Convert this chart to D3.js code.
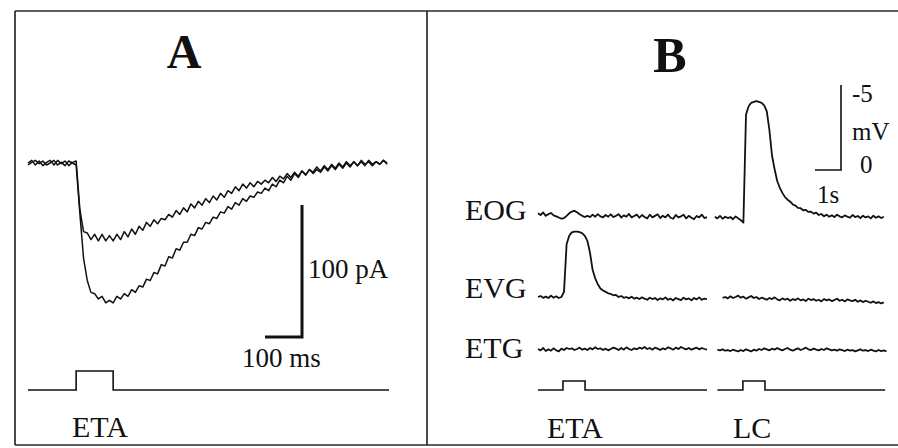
<!DOCTYPE html>
<html>
<head>
<meta charset="utf-8">
<script src="https://cdn.jsdelivr.net/npm/d3@7"></script>
<style>
  body { margin: 0; background: #fff; }
  svg text { font-family: "Liberation Serif", "Times New Roman", serif; fill: #111; }
</style>
</head>
<body>
<svg id="fig" width="898" height="448"></svg>
<script>
// ---- Panel A: whole-cell currents (pA), one sample every 10 ms ----
const dtA = 10;
const currentSmall = [
  0, 2, -1.5, 1.5, -2, 0.5, 2, -1.5, 2, -0.5, 1.5, -2, 0.5, 1.5,
  -35, -52, -53, -58, -54, -59, -54, -59, -55, -59, -54, -58, -52, -56, -50, -54,
  -48, -51, -45, -48, -43, -46, -42, -43, -39, -41, -36, -39, -34, -37, -31, -34,
  -29, -32, -27, -30, -25, -28, -23, -26, -21, -23, -18, -21, -16, -19, -15, -18,
  -14, -16, -13, -15, -11, -14, -10, -12, -8, -11, -7, -10, -6, -9, -5, -8,
  -5, -7, -3, -6, -2, -5, -1, -4, 0, -3, 1, -2, 1, -2, 2, -1, 1, -1, 2, 0
];
const currentLarge = [
  -1.5, 0.5, 2, -0.5, 1.5, -1.5, 0, 2, -1.5, 0.5, -2, 1.5, 0, -1.5,
  -38, -72, -89, -98, -99, -103, -101, -106, -104, -106, -101, -103, -99, -101, -96, -98,
  -93, -94, -88, -89, -83, -84, -77, -78, -71, -72, -65, -66, -60, -60, -54, -55,
  -49, -50, -45, -46, -41, -42, -37, -38, -33, -35, -30, -32, -27, -29, -25, -26,
  -22, -23, -19, -21, -16, -18, -13, -15, -10, -13, -8, -11, -6, -9, -5, -7,
  -3, -6, -2, -5, -1, -4, 0, -3, 1, -2, 1, -2, 2, -1, 1, -2, 1, -1, 2, -1
];
// ETA stimulus: [start, on, off, end] in ms
const stimA = [0, 130, 230, 975];
const scaleBarA = { pA: 100, ms: 100 };

// ---- Panel B: field potentials (mV), one sample every 0.1 s ----
const dtB = 0.1;
const channels = ["EOG", "EVG", "ETG"];
const eogSweep1 = [
  -0.1, 0, -0.15, 0.05, -0.05, -0.12, 0.02, 0.08, 0.15, 0.22,
  0.18, 0.05, -0.1, -0.2, -0.24, -0.16, -0.05, 0.05, 0.12, 0.05,
  0.12, -0.02, 0.1, -0.05, 0.08, 0.14, 0, 0.1, -0.04, 0.12,
  0.05, -0.05, 0.15, 0.02, 0.1, -0.06, 0.14, 0.06, -0.02, 0.16,
  0, 0.12, 0.2, -0.02, 0.14, 0.05, -0.04, 0.18, 0.04, 0.14,
  -0.02, 0.16, 0.22, 0, 0.14, 0.08, -0.02, 0.2, 0.05, 0.16,
  0.24, 0.06, 0.14, -0.02, 0.18, 0.12
];
const eogSweep2 = [
  0.1, 0.2, 0.05, 0.22, 0.1, 0.18, 0.12, 0.25, 0.08, 0.2,
  0.3, 0.45, -5.9, -6.4, -6.6, -6.65, -6.7, -6.65, -6.6, -6.45,
  -6.1, -5.0, -3.5, -2.7, -2.0, -1.6, -1.3, -1.05, -0.9, -0.78,
  -0.62, -0.55, -0.42, -0.4, -0.28, -0.3, -0.18, -0.2, -0.08, -0.14,
  0, -0.06, 0.08, -0.02, 0.1, 0.02, 0.12, -0.02, 0.08, 0.14,
  0.02, 0.1, 0.16, 0, 0.12, 0.06, 0.18, 0.04, 0.14, 0.08,
  0.2, 0.04, 0.16, 0.08, 0.18, 0.1
];
const evgSweep1 = [
  0, -0.06, 0.05, -0.02, 0.06, -0.08, 0.04, -0.04, 0.06, 0,
  -0.3, -3.1, -3.6, -3.8, -3.85, -3.85, -3.82, -3.75, -3.6, -3.3,
  -2.6, -1.6, -1.1, -0.75, -0.5, -0.38, -0.3, -0.22, -0.18, -0.1,
  -0.12, 0, -0.06, 0.05, 0, 0.08, -0.02, 0.1, 0.04, 0.12,
  0.02, 0.1, 0.16, 0.04, 0.12, 0.06, 0.18, 0.08, 0.14, 0.02,
  0.16, 0.1, 0.2, 0.06, 0.12, 0.18, 0.04, 0.14, 0.08, 0.2,
  0.06, 0.14, 0.02, 0.16, 0.1, 0.12
];
const evgSweep2 = [
  0.05, 0, 0.08, -0.04, 0.06, 0, -0.08, 0.04, -0.02, 0.1,
  0.02, -0.06, 0.06, 0, 0.12, 0.04, 0.1, 0.16, 0.06, 0.12,
  0.02, 0.14, 0.2, 0.08, 0.16, 0.1, 0.22, 0.12, 0.18, 0.08,
  0.2, 0.14, 0.24, 0.1, 0.18, 0.12, 0.22, 0.16, 0.26, 0.12,
  0.2, 0.14, 0.24, 0.18, 0.1, 0.22, 0.16, 0.26, 0.14, 0.2,
  0.24, 0.16, 0.28, 0.2, 0.3, 0.22, 0.28, 0.34, 0.26, 0.36,
  0.3, 0.38, 0.32
];
const etgSweep1 = [
  0, 0.08, -0.06, 0.12, 0.02, 0.1, -0.04, 0.08, 0.14, -0.02,
  0.06, -0.06, 0, -0.04, 0.06, 0, -0.08, 0.04, -0.02, 0.06,
  -0.06, 0.02, -0.1, 0, -0.04, 0.06, -0.02, 0.08, 0, -0.08,
  -0.02, 0.06, -0.06, 0.04, -0.1, 0, 0.06, -0.04, 0.02, -0.08,
  -0.02, -0.12, 0, -0.06, 0.04, -0.08, -0.02, 0.06, -0.04, 0.02,
  -0.1, -0.04, 0.04, -0.08, 0, -0.12, -0.04, 0.02, -0.06, 0.04,
  -0.02, -0.08, 0.02, -0.06, 0, 0.04
];
const etgSweep2 = [
  0.04, 0.08, 0.02, 0.1, 0.06, 0.12, 0.04, 0.1, 0.14, 0.06,
  0.12, 0.02, 0.08, 0.14, 0.04, 0.1, 0, 0.06, -0.04, 0.02,
  0.08, -0.02, 0.04, -0.06, 0.02, 0.08, 0, -0.06, 0.04, 0.1,
  0.02, -0.04, 0.06, 0, -0.08, 0.02, 0.06, -0.02, 0.04, 0.08,
  0, 0.06, -0.04, 0.02, 0.08, 0.04, 0.1, 0.02, 0.06, 0.12,
  0.04, 0.1, 0.06, 0.14, 0.08, 0.02, 0.1, 0.06, 0.12, 0.04,
  0.1, 0.14, 0.06, 0.12, 0.08, 0.14
];
// sweep start times (s) on the shared B time axis
const sweepStarts = { EOG: [0, 6.8], EVG: [0, 7.1], ETG: [0, 6.9] };
// stimulus sweeps: [start, on, off, end] in s
const stimB = [[0, 0.96, 1.81, 6.5], [6.9, 7.88, 8.73, 13.35]];
const stimLabelsB = ["ETA", "LC"];
const scaleBarB = { mV: 5, s: 1 };

const svg = d3.select("#fig");
const ink = "#111";

// frame
const frame = svg.append("g").attr("stroke", "#2a2a2a").attr("stroke-width", 1.7);
frame.append("line").attr("x1", 15).attr("x2", 898).attr("y1", 11).attr("y2", 11);
frame.append("line").attr("x1", 15).attr("x2", 898).attr("y1", 445).attr("y2", 445);
frame.append("line").attr("x1", 15).attr("x2", 15).attr("y1", 11).attr("y2", 445);
frame.append("line").attr("x1", 427).attr("x2", 427).attr("y1", 11).attr("y2", 445);

// ================= Panel A =================
const xA = d3.scaleLinear().domain([0, 975]).range([28, 389]);
const yA = d3.scaleLinear().domain([0, -100]).range([163, 295]);
const lineA = d3.line().x((d, i) => xA(i * dtA)).y(d => yA(d));

svg.append("text").attr("x", 184).attr("y", 68).attr("text-anchor", "middle")
  .attr("font-size", 48).attr("font-weight", "bold").text("A");

[currentLarge, currentSmall].forEach(tr => {
  svg.append("path").datum(tr).attr("d", lineA)
    .attr("fill", "none").attr("stroke", ink).attr("stroke-width", 1.5)
    .attr("stroke-linejoin", "round");
});

// scale bar A
const barAx = 302, barAy = 337;
svg.append("path")
  .attr("d", `M${barAx - (xA(scaleBarA.ms) - xA(0))},${barAy}H${barAx}V${barAy - (yA(-scaleBarA.pA) - yA(0))}`)
  .attr("fill", "none").attr("stroke", ink).attr("stroke-width", 3);
svg.append("text").attr("x", 308).attr("y", 278).attr("font-size", 27).text(`${scaleBarA.pA} pA`);
svg.append("text").attr("x", 242).attr("y", 367).attr("font-size", 27).text(`${scaleBarA.ms} ms`);

// stimulus A
const stimY = d3.scaleLinear().domain([0, 1]).range([390, 371]);
const stepLine = (x, s) => d3.line().x(d => x(d[0])).y(d => stimY(d[1]))(
  [[s[0], 0], [s[1], 0], [s[1], 1], [s[2], 1], [s[2], 0], [s[3], 0]]);
svg.append("path").attr("d", stepLine(xA, stimA))
  .attr("fill", "none").attr("stroke", ink).attr("stroke-width", 1.6);
svg.append("text").attr("x", 72).attr("y", 437).attr("font-size", 30).text("ETA");

// ================= Panel B =================
const xB = d3.scaleLinear().domain([0, 13.5]).range([538, 889]);
const yB = d3.scaleLinear().domain([0, -5]).range([0, -85]);
const chanBase = d3.scaleOrdinal().domain(channels).range([215, 297, 349]);
const sweeps = { EOG: [eogSweep1, eogSweep2], EVG: [evgSweep1, evgSweep2], ETG: [etgSweep1, etgSweep2] };

svg.append("text").attr("x", 670).attr("y", 72).attr("text-anchor", "middle")
  .attr("font-size", 50).attr("font-weight", "bold").text("B");

channels.forEach((ch, ci) => {
  const g = svg.append("g").attr("transform", `translate(0,${chanBase(ch)})`);
  sweeps[ch].forEach((vals, si) => {
    const t0 = sweepStarts[ch][si];
    g.append("path").datum(vals)
      .attr("d", d3.line().x((d, i) => xB(t0 + i * dtB)).y(d => yB(d)))
      .attr("fill", "none").attr("stroke", ink).attr("stroke-width", 1.8)
      .attr("stroke-linejoin", "round");
  });
  svg.append("text").attr("x", 465).attr("y", [220, 298, 358][ci])
    .attr("font-size", 30).text(ch);
});

// scale bar B
const barBx = 841, barBy = 170;
svg.append("path")
  .attr("d", `M${barBx - (xB(scaleBarB.s) - xB(0))},${barBy}H${barBx}V${barBy + yB(-scaleBarB.mV)}`)
  .attr("fill", "none").attr("stroke", ink).attr("stroke-width", 1.6);
svg.append("text").attr("x", 852).attr("y", 102).attr("font-size", 25).text(`-${scaleBarB.mV}`);
svg.append("text").attr("x", 852).attr("y", 140).attr("font-size", 25).text("mV");
svg.append("text").attr("x", 860).attr("y", 173).attr("font-size", 25).text("0");
svg.append("text").attr("x", 817).attr("y", 203).attr("font-size", 25).text(`${scaleBarB.s}s`);

// stimulus B
const stimYB = d3.scaleLinear().domain([0, 1]).range([390, 381]);
stimB.forEach((s, i) => {
  const d = d3.line().x(p => xB(p[0])).y(p => stimYB(p[1]))(
    [[s[0], 0], [s[1], 0], [s[1], 1], [s[2], 1], [s[2], 0], [s[3], 0]]);
  svg.append("path").attr("d", d).attr("fill", "none").attr("stroke", ink).attr("stroke-width", 1.6);
  svg.append("text").attr("x", [547, 733][i]).attr("y", 438).attr("font-size", 30).text(stimLabelsB[i]);
});
</script>
</body>
</html>
